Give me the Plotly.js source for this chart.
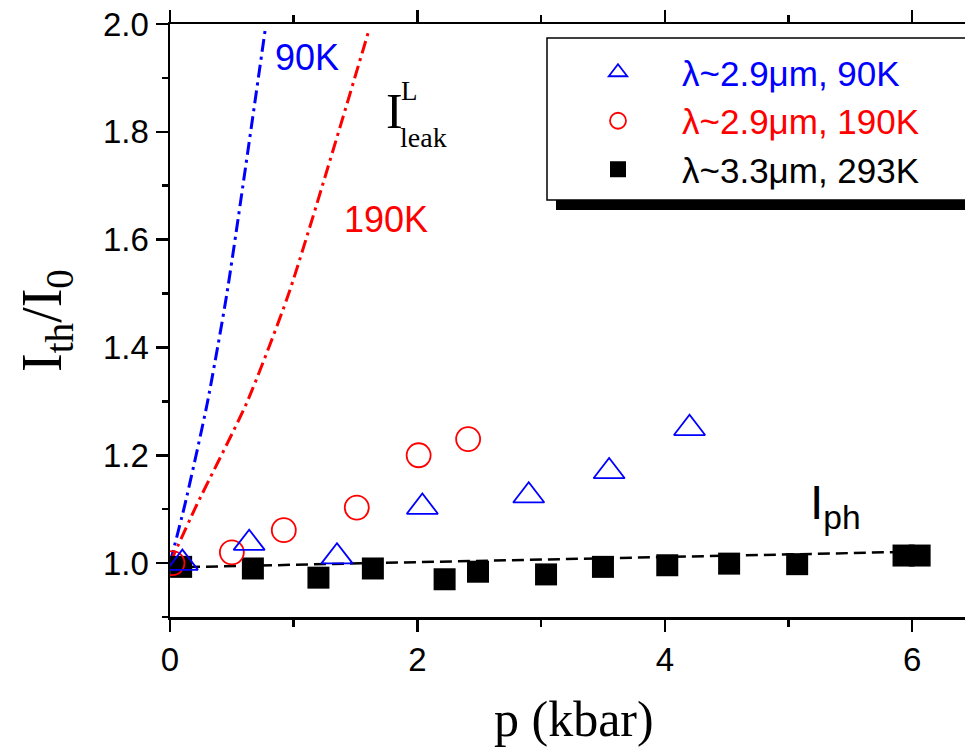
<!DOCTYPE html>
<html>
<head>
<meta charset="utf-8">
<script src="https://cdn.plot.ly/plotly-3.0.1.min.js"></script>
<style>
html,body{margin:0;padding:0;background:#fff;overflow:hidden}
#chart{width:965px;height:748px}
</style>
</head>
<body>
<div id="chart"></div>
<script>
// λ~2.9µm, 90K (open triangles)
const p90 = [0.10, 0.64, 1.35, 2.04, 2.90, 3.55, 4.20];
const r90 = [1.000, 1.037, 1.012, 1.104, 1.125, 1.170, 1.250];
// λ~2.9µm, 190K (open circles)
const p190 = [0.02, 0.50, 0.92, 1.51, 2.01, 2.41];
const r190 = [1.000, 1.020, 1.061, 1.103, 1.200, 1.230];
// λ~3.3µm, 293K (filled squares)
const p293 = [0.09, 0.67, 1.20, 1.64, 2.22, 2.49, 3.04, 3.50, 4.02, 4.52, 5.07, 5.93, 6.06];
const r293 = [0.993, 0.990, 0.973, 0.990, 0.970, 0.984, 0.979, 0.993, 0.996, 0.999, 0.998, 1.014, 1.014];
// I_leak^L curves (dash-dot)
const leak90X = [0.00, 0.12, 0.30, 0.46, 0.77];
const leak90Y = [1.000, 1.108, 1.295, 1.500, 1.990];
const leak190X = [0.00, 0.21, 0.62, 0.96, 1.61];
const leak190Y = [1.000, 1.105, 1.297, 1.500, 1.990];
// I_ph line (dashed)
const phX = [0.0, 6.0];
const phY = [0.992, 1.021];
// axis ticks
const xTick0 = 0, xDtick = 2, xMinorDtick = 1;
const yTick0 = 1.0, yDtick = 0.2, yMinorDtick = 0.1;

const W = 965, H = 748, L = 170, R = 0, T = 24, B = 131;
const PW = W - L - R, PH = H - T - B;
const px = v => (v - L) / PW;
const py = v => (H - B - v) / PH;

const sans = 'Liberation Sans, Arial, sans-serif';
const serif = 'Liberation Serif, Times New Roman, serif';

const traces = [
  {x: leak90X, y: leak90Y, mode: 'lines', line: {color: '#0000ff', width: 3, dash: '13px,5px,3px,5px', shape: 'spline', smoothing: 0.6}, showlegend: false, hoverinfo: 'skip'},
  {x: leak190X, y: leak190Y, mode: 'lines', line: {color: '#ff0000', width: 3, dash: '13px,5px,3px,5px', shape: 'spline', smoothing: 0.6}, showlegend: false, hoverinfo: 'skip'},
  {x: phX, y: phY, mode: 'lines', line: {color: '#000000', width: 2.5, dash: '12px,6px'}, showlegend: false, hoverinfo: 'skip'},
  {x: p293, y: r293, mode: 'markers', name: '<span style="color:#000000">λ~3.3μm, 293K</span>', legendrank: 3,
   marker: {symbol: 'square', size: 22, color: '#000000', line: {width: 0}}},
  {x: p190, y: r190, mode: 'markers', name: '<span style="color:#ff0000">λ~2.9μm, 190K</span>', legendrank: 2,
   marker: {symbol: 'circle-open', size: 24, color: '#ff0000', line: {width: 1.8, color: '#ff0000'}}},
  {x: p90, y: r90, mode: 'markers', name: '<span style="color:#0000ff">λ~2.9μm, 90K</span>', legendrank: 1,
   marker: {symbol: 'triangle-up-open', size: 27, color: '#0000ff', line: {width: 1.8, color: '#0000ff'}}}
];

const axisCommon = {
  showline: true, linewidth: 2.5, linecolor: '#000',
  showgrid: false, zeroline: false, tickcolor: '#000', tickwidth: 2.5,
  tickfont: {family: sans, size: 33, color: '#000'}
};
const xRange = [0, PW / 123.7];

const layout = {
  width: W, height: H,
  margin: {l: L, r: R, t: T, b: B, pad: 0},
  paper_bgcolor: '#fff', plot_bgcolor: '#fff',
  font: {family: sans, color: '#000'},
  showlegend: true,
  xaxis: Object.assign({}, axisCommon, {
    range: xRange, tickmode: 'linear', tick0: xTick0, dtick: xDtick,
    ticks: 'outside', ticklen: 12, mirror: 'ticks',
    minor: {tickmode: 'linear', tick0: xTick0, dtick: xMinorDtick, ticks: 'outside', ticklen: 7, tickwidth: 2.5, tickcolor: '#000'}
  }),
  yaxis: Object.assign({}, axisCommon, {
    range: [0.9, 2.0], tickmode: 'linear', tick0: yTick0, dtick: yDtick, tickformat: '.1f',
    ticks: 'outside', ticklen: 12,
    minor: {tickmode: 'linear', tick0: yTick0, dtick: yMinorDtick, ticks: 'outside', ticklen: 6, tickwidth: 2.5, tickcolor: '#000'}
  }),
  legend: {
    x: px(554), y: py(43), xanchor: 'left', yanchor: 'top',
    bgcolor: 'rgba(0,0,0,0)', borderwidth: 0,
    font: {family: sans, size: 35, color: '#000'},
    itemwidth: 118, traceorder: 'normal'
  },
  shapes: [
    {type: 'rect', xref: 'paper', yref: 'paper', x0: px(556), x1: px(990), y0: py(210), y1: py(47),
     fillcolor: '#000', line: {width: 0}, layer: 'above'},
    {type: 'rect', xref: 'paper', yref: 'paper', x0: px(547), x1: px(980), y0: py(200), y1: py(38),
     fillcolor: '#fff', line: {width: 1.5, color: '#000'}, layer: 'above'}
  ],
  annotations: [
    {text: '90K', xref: 'paper', yref: 'paper', x: px(307), y: py(58), xanchor: 'center', yanchor: 'middle',
     showarrow: false, font: {family: sans, size: 36, color: '#0000ff'}},
    {text: '190K', xref: 'paper', yref: 'paper', x: px(386), y: py(220), xanchor: 'center', yanchor: 'middle',
     showarrow: false, font: {family: sans, size: 36, color: '#ff0000'}},
    {text: 'I', xref: 'paper', yref: 'paper', x: px(394), y: py(111), xanchor: 'center', yanchor: 'middle',
     showarrow: false, font: {family: serif, size: 50, color: '#000'}},
    {text: 'L', xref: 'paper', yref: 'paper', x: px(409.5), y: py(91), xanchor: 'center', yanchor: 'middle',
     showarrow: false, font: {family: serif, size: 27, color: '#000'}},
    {text: 'leak', xref: 'paper', yref: 'paper', x: px(423.5), y: py(137.5), xanchor: 'center', yanchor: 'middle',
     showarrow: false, font: {family: serif, size: 28, color: '#000'}},
    {text: 'I<sub>ph</sub>', xref: 'paper', yref: 'paper', x: px(835), y: py(506), xanchor: 'center', yanchor: 'middle',
     showarrow: false, font: {family: sans, size: 48, color: '#000'}},
    {text: 'p (kbar)', xref: 'paper', yref: 'paper', x: px(574), y: py(719), xanchor: 'center', yanchor: 'middle',
     showarrow: false, font: {family: serif, size: 50, color: '#000'}},
    {text: 'I<sub>th</sub>/I<sub>0</sub>', xref: 'paper', yref: 'paper', x: px(46), y: py(321), xanchor: 'center', yanchor: 'middle',
     textangle: -90, showarrow: false, font: {family: serif, size: 56, color: '#000'}}
  ]
};

Plotly.newPlot('chart', traces, layout, {displayModeBar: false, staticPlot: true});
</script>
</body>
</html>
